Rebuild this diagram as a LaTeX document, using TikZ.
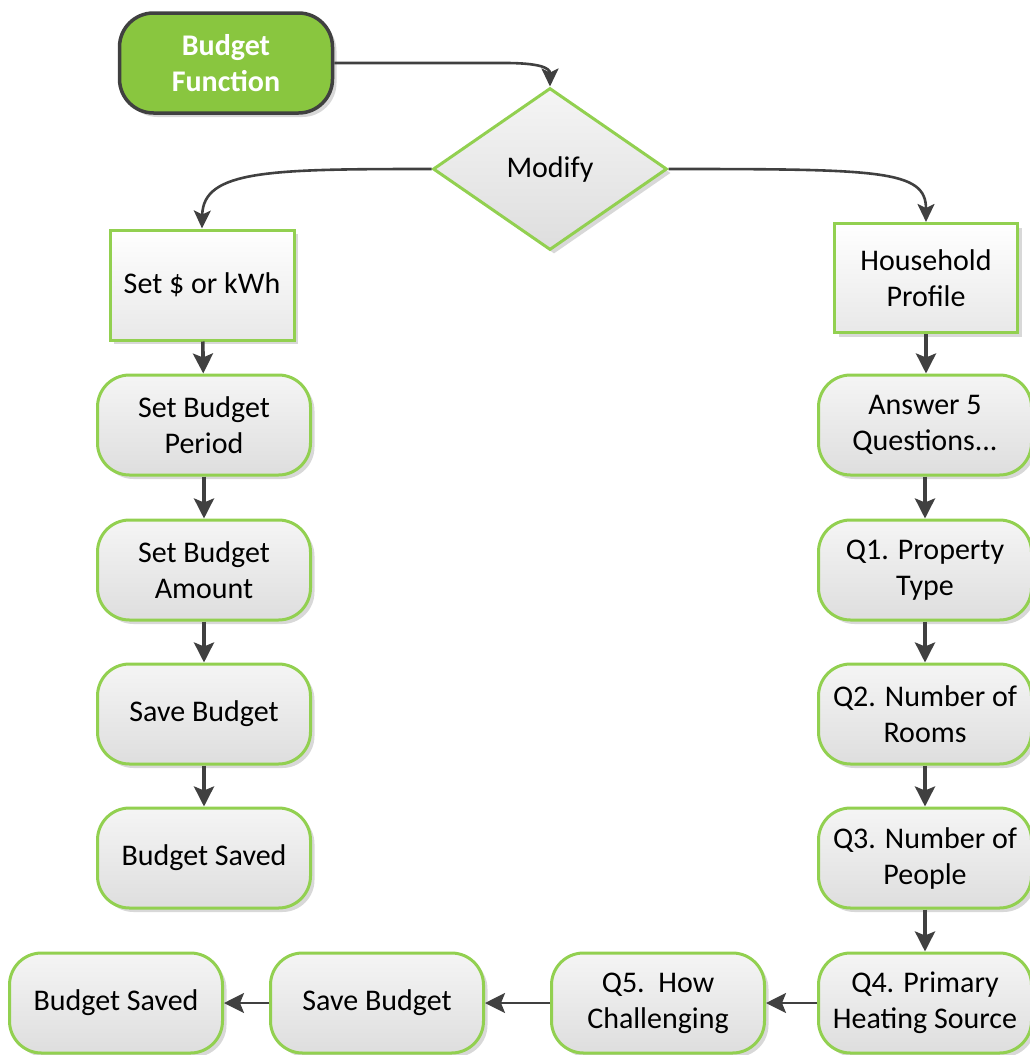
\documentclass[tikz,border=0pt]{standalone}
\usepackage{fontspec}
\setmainfont{Carlito}
\usetikzlibrary{arrows.meta,shapes.geometric,shadows}
\definecolor{leaf}{RGB}{146,208,80}
\definecolor{startfill}{RGB}{137,198,63}
\definecolor{ink}{RGB}{64,64,64}
\tikzset{
  txt/.style={font=\fontsize{30}{36}\selectfont, align=center, text=black},
  softshadow/.style={drop shadow={shadow xshift=4pt, shadow yshift=-4pt, fill=black!30, opacity=0.5}},
  grayfill/.style={top color=white!96!black, bottom color=black!13},
  paleFill/.style={top color=white, bottom color=black!9},
  roundbox/.style={txt, rectangle, rounded corners=32pt, draw=leaf, line width=3pt,
    minimum width=213pt, minimum height=100pt, inner sep=2pt, grayfill, softshadow},
  squarebox/.style={txt, rectangle, draw=leaf, line width=3pt,
    minimum width=184pt, minimum height=110pt, inner sep=2pt, paleFill, softshadow},
  startbox/.style={txt, rectangle, rounded corners=34pt, draw=ink, line width=3.5pt,
    minimum width=213pt, minimum height=100pt, fill=startfill, text=white, font=\fontsize{30}{36}\selectfont\bfseries, softshadow},
  decision/.style={txt, diamond, draw=leaf, line width=3pt, minimum width=234pt, minimum height=162pt,
    inner sep=0pt, grayfill, softshadow},
  flow/.style={draw=ink, line width=3.6pt, -{Stealth[length=20pt,width=20pt,inset=4pt]}},
  curveflow/.style={draw=ink, line width=2.6pt, -{Stealth[length=18pt,width=17pt,inset=4pt]}}
}
\begin{document}
\begin{tikzpicture}[x=1pt,y=-1pt]
\useasboundingbox (0,0) rectangle (1029,1055);

% start and decision
\node[startbox] (bf) at (226,63) {Budget\\Function};
\node[decision] (mod) at (550,169) {Modify};

% left branch: budget settings
\node[squarebox] (unit) at (202,285) {Set \$ or kWh};
\node[roundbox] (period) at (204,425) {Set Budget\\Period};
\node[roundbox] (amount) at (204,570) {Set Budget\\Amount};
\node[roundbox] (saveL) at (204,714) {Save Budget};
\node[roundbox] (savedL) at (204,858) {Budget Saved};

% right branch: household profile questions
\node[squarebox, minimum height=109pt, minimum width=183pt] (house) at (926,278) {Household\\Profile};
\node[roundbox] (answer) at (925,425) {Answer 5\\Questions...};
\node[roundbox] (q1) at (925,570) {Q1. Property\\Type};
\node[roundbox] (q2) at (925,714) {Q2. Number of\\Rooms};
\node[roundbox] (q3) at (925,858) {Q3. Number of\\People};
\node[roundbox] (q4) at (925,1003) {Q4. Primary\\Heating Source};
\node[roundbox] (q5) at (658,1003) {Q5.\ \ How\\Challenging};
\node[roundbox] (saveR) at (377,1003) {Save Budget};
\node[roundbox] (savedR) at (116,1003) {Budget Saved};

% curved connectors
\draw[curveflow] (bf.east) -- (505,63) .. controls (540,63) and (550,68) .. (mod.north);
\draw[curveflow] (mod.west) .. controls (270,169) and (203,170) .. (unit.north);
\draw[curveflow] (mod.east) .. controls (880,169) and (926,170) .. (house.north);

% straight connectors
\draw[flow] (unit) -- (period);
\draw[flow] (period) -- (amount);
\draw[flow] (amount) -- (saveL);
\draw[flow] (saveL) -- (savedL);
\draw[flow] (house.south) -- (answer.north -| house.south);
\draw[flow] (answer) -- (q1);
\draw[flow] (q1) -- (q2);
\draw[flow] (q2) -- (q3);
\draw[flow] (q3) -- (q4);
\draw[flow, line width=2.6pt] (q4) -- (q5);
\draw[flow, line width=2.6pt] (q5) -- (saveR);
\draw[flow, line width=2.6pt] (saveR) -- (savedR);
\end{tikzpicture}
\end{document}
